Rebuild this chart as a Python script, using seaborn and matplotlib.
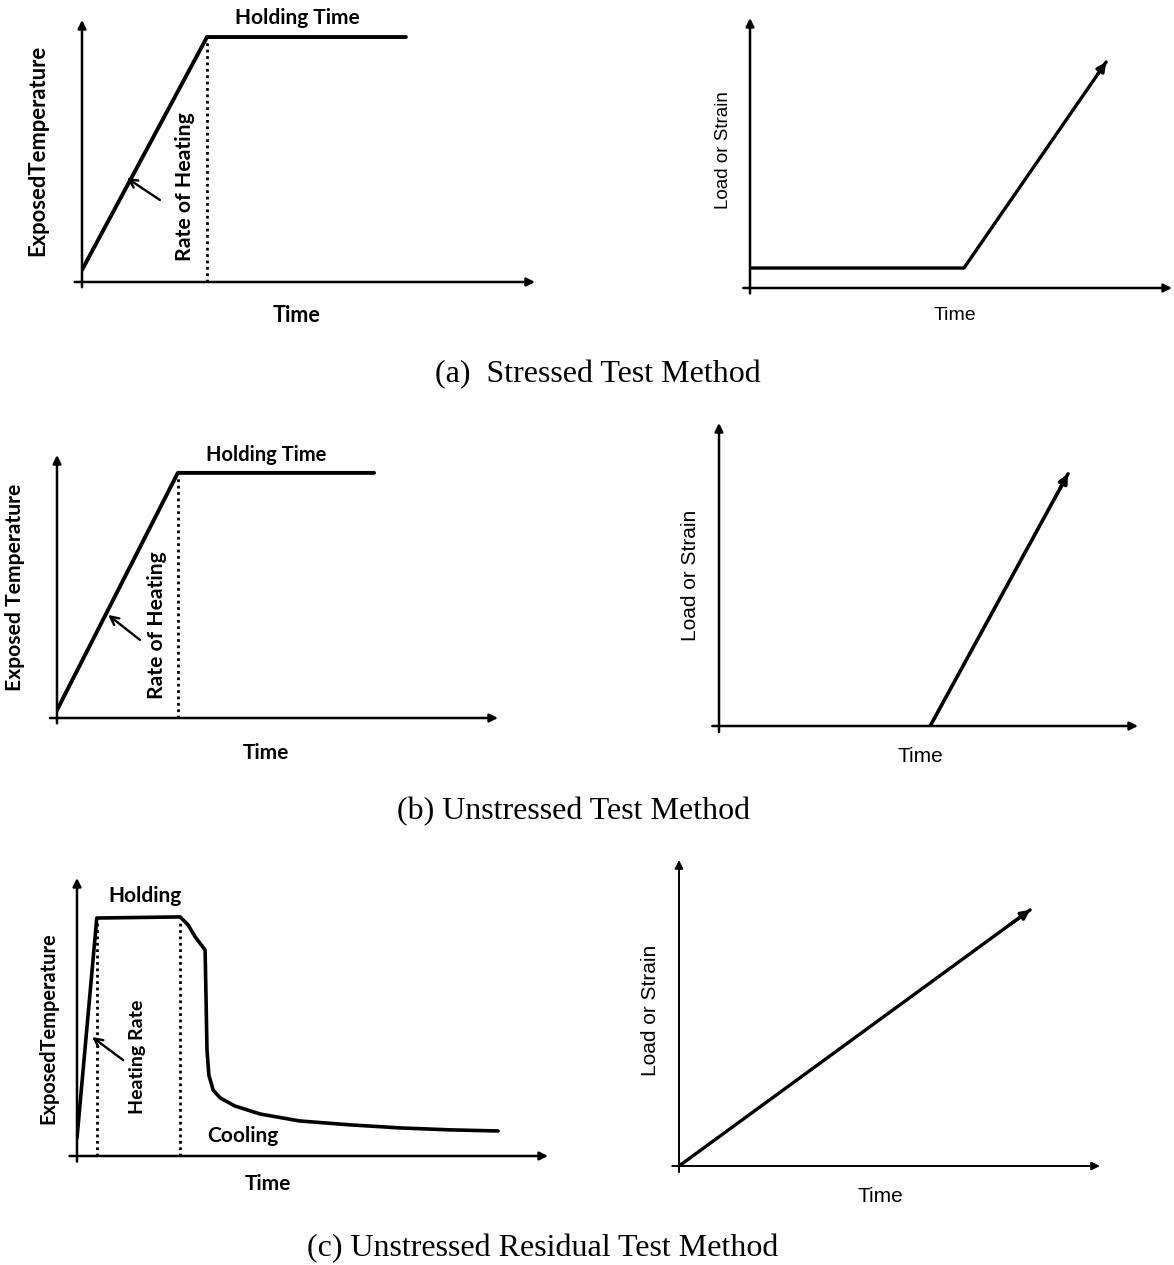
import numpy as np
import pandas as pd
import matplotlib
matplotlib.use("Agg")
import matplotlib.pyplot as plt
import seaborn as sns

sns.set_theme(style="white")
plt.rcParams['font.family'] = ['Lato', 'DejaVu Sans']

W, H = 1174, 1265

# ---------------- data (normalised time / value units, 0-100) ----------------
# (a) stressed: temperature history
a_temp_time = [0.0, 27.6, 71.5]
a_temp_val = [4.6, 93.5, 93.5]
a_hold_start = 27.6
# (a) stressed: load history
a_load_time = [0.0, 50.7, 84.4]
a_load_val = [7.4, 7.4, 83.7]

# (b) unstressed: temperature history
b_temp_time = [0.0, 27.4, 71.9]
b_temp_val = [3.0, 93.2, 93.2]
b_hold_start = 27.4
# (b) unstressed: load history
b_load_time = [50.4, 83.3]
b_load_val = [0.0, 83.2]

# (c) unstressed residual: temperature history (heating, holding, cooling)
c_temp_time = [0.0, 4.2, 21.9, 23.6, 25.1, 27.2, 27.6, 28.0, 28.9, 30.4,
               33.5, 38.9, 47.3, 58.0, 68.6, 79.2, 89.4]
c_temp_val = [6.5, 85.6, 86.0, 83.1, 78.8, 74.1, 38.1, 29.1, 23.7, 20.9,
              18.0, 15.1, 12.6, 11.2, 10.1, 9.4, 9.0]
c_hold_start, c_hold_end = 4.2, 21.9
# (c) unstressed residual: load history
c_load_time = [0.0, 83.4]
c_load_val = [0.0, 83.7]

captions = ["(a)  Stressed Test Method", "(b) Unstressed Test Method",
            "(c) Unstressed Residual Test Method"]

# ---------------- figure ----------------
fig = plt.figure(figsize=(W / 100, H / 100), dpi=100)
fig.patch.set_facecolor("white")


def fx(px):
    return px / W


def fy(py):
    return 1 - py / H


def panel(x0, y0, x1, y1, lw_axes=1.8):
    ax = fig.add_axes([fx(x0), fy(y0), (x1 - x0) / W, (y0 - y1) / H])
    ax.set_xlim(0, 100)
    ax.set_ylim(0, 100)
    ax.axis("off")
    ax.patch.set_alpha(0)
    ap = dict(arrowstyle="-|>", color="black", lw=lw_axes,
              mutation_scale=12, shrinkA=0, shrinkB=0)
    ax.annotate("", xy=(1.0, 0.0), xytext=(-0.016, 0.0),
                xycoords="axes fraction", arrowprops=ap, annotation_clip=False)
    ax.annotate("", xy=(0.0, 1.0), xytext=(0.0, -0.02),
                xycoords="axes fraction", arrowprops=ap, annotation_clip=False)
    return ax


def curve(ax, t, v, lw=2.6, arrow=False):
    df = pd.DataFrame({"t": t, "v": v})
    sns.lineplot(data=df, x="t", y="v", ax=ax, sort=False, estimator=None,
                 color="black", lw=lw, legend=False)
    ax.set_xlim(0, 100)
    ax.set_ylim(0, 100)
    ax.axis("off")
    if arrow:
        t = np.asarray(t); v = np.asarray(v)
        ax.annotate("", xy=(t[-1], v[-1]),
                    xytext=(t[-1] - (t[-1] - t[-2]) * 0.06,
                            v[-1] - (v[-1] - v[-2]) * 0.06),
                    arrowprops=dict(arrowstyle="-|>", color="black", lw=lw,
                                    mutation_scale=13, shrinkA=0, shrinkB=0))


def dotted(ax, t, top):
    ax.plot([t, t], [0, top], color="black", lw=2.0, ls=(0, (1, 1.3)))


def note_arrow(ax, tail, head):
    ax.annotate("", xy=head, xytext=tail,
                arrowprops=dict(arrowstyle="->", color="black", lw=1.7,
                                mutation_scale=15, shrinkA=0, shrinkB=0))


lab = dict(family=["Lato", "DejaVu Sans"], fontweight="bold", color="black")
lab2 = dict(family=["Liberation Sans", "DejaVu Sans"], color="black")
cap = dict(family=["Liberation Serif", "DejaVu Serif"], fontsize=23, color="black")

# ---- (a) left
ax = panel(82, 282, 535, 20)
curve(ax, a_temp_time, a_temp_val, lw=2.8)
dotted(ax, a_hold_start, 92)
note_arrow(ax, (17.2, 31.3), (9.9, 39.7))
fig.text(fx(297), fy(18), "Holding Time", ha="center", va="center", fontsize=15, **lab)
fig.text(fx(38), fy(150), "ExposedTemperature", ha="center", va="center", rotation=90, fontsize=15.8, **lab)
fig.text(fx(185), fy(187), "Rate of Heating", ha="center", va="center", rotation=90, fontsize=15.3, **lab)
fig.text(fx(297), fy(316), "Time", ha="center", va="center", fontsize=15.5, **lab)

# ---- (a) right
ax = panel(750, 288, 1172, 18)
curve(ax, a_load_time, a_load_val, lw=2.4, arrow=True)
fig.text(fx(723), fy(150), "Load or Strain", ha="center", va="center", rotation=90, fontsize=13.5, **lab2)
fig.text(fx(955), fy(315), "Time", ha="center", va="center", fontsize=14, **lab2)

fig.text(fx(598), fy(375), captions[0], ha="center", va="center", **cap)

# ---- (b) left
ax = panel(57, 718, 498, 455)
curve(ax, b_temp_time, b_temp_val, lw=2.8)
dotted(ax, b_hold_start, 92)
note_arrow(ax, (18.8, 29.7), (11.6, 39.2))
fig.text(fx(266), fy(455), "Holding Time", ha="center", va="center", fontsize=14.5, **lab)
fig.text(fx(15), fy(587), "Exposed Temperature", ha="center", va="center", rotation=90, fontsize=15.2, **lab)
fig.text(fx(157), fy(625), "Rate of Heating", ha="center", va="center", rotation=90, fontsize=15.1, **lab)
fig.text(fx(266), fy(753), "Time", ha="center", va="center", fontsize=15, **lab)

# ---- (b) right
ax = panel(719, 726, 1138, 423)
curve(ax, b_load_time, b_load_val, lw=2.6, arrow=True)
fig.text(fx(690), fy(575), "Load or Strain", ha="center", va="center", rotation=90, fontsize=15, **lab2)
fig.text(fx(920), fy(756), "Time", ha="center", va="center", fontsize=15, **lab2)

fig.text(fx(574), fy(812), captions[1], ha="center", va="center", **cap)

# ---- (c) left
ax = panel(77, 1156, 548, 878)
curve(ax, c_temp_time, c_temp_val, lw=2.6)
dotted(ax, c_hold_start, 85)
dotted(ax, c_hold_end, 85)
note_arrow(ax, (9.8, 34.5), (3.2, 42.8))
fig.text(fx(145), fy(896), "Holding", ha="center", va="center", fontsize=15, **lab)
fig.text(fx(243), fy(1136), "Cooling", ha="center", va="center", fontsize=15, **lab)
fig.text(fx(48), fy(1028), "ExposedTemperature", ha="center", va="center", rotation=90, fontsize=14.4, **lab)
fig.text(fx(138), fy(1057), "Heating Rate", ha="center", va="center", rotation=90, fontsize=14, **lab)
fig.text(fx(268), fy(1184), "Time", ha="center", va="center", fontsize=15, **lab)

# ---- (c) right
ax = panel(679, 1166, 1100, 860, lw_axes=1.4)
curve(ax, c_load_time, c_load_val, lw=2.4, arrow=True)
fig.text(fx(650), fy(1010), "Load or Strain", ha="center", va="center", rotation=90, fontsize=15, **lab2)
fig.text(fx(880), fy(1197), "Time", ha="center", va="center", fontsize=15, **lab2)

fig.text(fx(543), fy(1249), captions[2], ha="center", va="center", **cap)

fig.savefig("out.png", dpi=100, facecolor="white")
